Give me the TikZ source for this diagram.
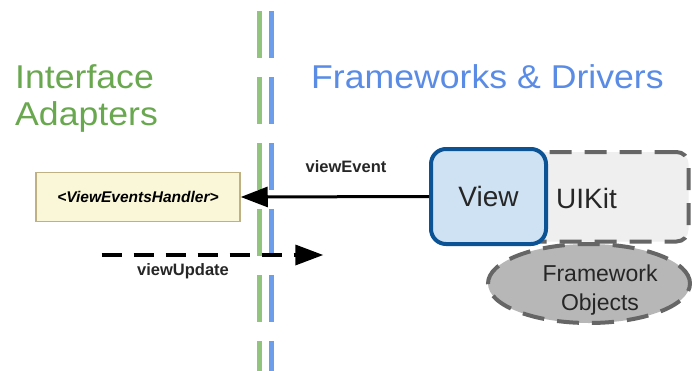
\documentclass[tikz,border=0pt]{standalone}
\usepackage{fontspec}
\setmainfont{Liberation Sans}
\newfontfamily\titlefont[FakeStretch=1.08]{Liberation Sans}
\usetikzlibrary{arrows.meta,shapes.geometric}
\definecolor{titlegreen}{HTML}{6AA84F}
\definecolor{titleblue}{HTML}{5A8CE6}
\definecolor{linegreen}{HTML}{93C47D}
\definecolor{lineblue}{HTML}{6D9EEB}
\definecolor{handlerfill}{HTML}{FAF7D8}
\definecolor{handlerdraw}{HTML}{BFB184}
\definecolor{viewfill}{HTML}{CFE2F3}
\definecolor{viewdraw}{HTML}{0B5394}
\definecolor{kitfill}{HTML}{EFEFEF}
\definecolor{kitdraw}{HTML}{666666}
\definecolor{objfill}{HTML}{B7B7B7}
\tikzset{
  sepline/.style={line width=5pt, dash pattern=on 47pt off 19pt},
  titletext/.style={anchor=base west, inner sep=0pt, font=\titlefont\fontsize{33}{37}\selectfont, align=left},
  labeltext/.style={anchor=base, inner sep=0pt, font=\fontsize{16.5}{19}\selectfont\bfseries, text=black!85},
  handlerbox/.style={draw=handlerdraw, fill=handlerfill, line width=1.5pt, minimum width=204pt, minimum height=49pt, inner sep=0pt, font=\fontsize{15.5}{18}\selectfont\bfseries\itshape},
  viewbox/.style={draw=viewdraw, fill=viewfill, line width=4pt, rounded corners=15pt, minimum width=115pt, minimum height=95pt, inner sep=0pt, font=\fontsize{28}{32}\selectfont, text=black!85},
  kitbox/.style={draw=kitdraw, fill=kitfill, line width=4pt, rounded corners=12pt, dash pattern=on 22pt off 13pt},
  objshape/.style={ellipse, draw=kitdraw, fill=objfill, line width=4pt, dash pattern=on 22pt off 13pt, minimum width=202pt, minimum height=79pt, inner sep=0pt},
  bigtext/.style={inner sep=0pt, font=\fontsize{28}{32}\selectfont, text=black!85},
  objtext/.style={inner sep=0pt, align=center, font=\fontsize{23}{28.5}\selectfont, text=black!85},
  flowarrow/.style={line width=3pt, -{Triangle[length=27pt,width=20pt]}},
  dasharrow/.style={line width=3.5pt, dash pattern=on 20pt off 12pt, -{Triangle[length=28pt,width=20pt]}}
}
\begin{document}
\begin{tikzpicture}[x=1pt,y=-1pt]
\useasboundingbox (0,0) rectangle (692,370);
\fill[white] (0,0) rectangle (692,370);
% separator lines
\coordinate (gtop) at (259.5,11);
\coordinate (gbot) at (259.5,380);
\coordinate (btop) at (271,11);
\coordinate (bbot) at (271,380);
\draw[sepline, linegreen] (gtop) -- (gbot);
\draw[sepline, lineblue] (btop) -- (bbot);
% titles
\node[titletext, text=titlegreen] (ia) at (15,125) {Interface\\Adapters};
\node[titletext, text=titleblue] (fd) at (311,88) {Frameworks \& Drivers};
% handler
\node[handlerbox] (handler) at (138,197) {<ViewEventsHandler>};
% framework objects
\node[objshape] (obj) at (589,283.5) {};
\node[objtext] (objlabel) at (600,290) {Framework\\Objects};
% UIKit
\node[kitbox, minimum width=188.5pt, minimum height=89.5pt, inner sep=0pt] (uikit) at (594.25,196.75) {};
\node[bigtext, anchor=base west] (uikitlabel) at (556,208) {UIKit};
% View
\node[viewbox] (view) at (488.5,196.5) {View};
% arrows
\draw[flowarrow] (view.west) -- (handler.east);
\node[labeltext] (ev) at (346,172) {viewEvent};
\coordinate (ustart) at (101.7,255);
\coordinate (uend) at (323.3,255);
\draw[dasharrow] (ustart) -- (uend);
\node[labeltext] (up) at (183,275) {viewUpdate};
\end{tikzpicture}
\end{document}
